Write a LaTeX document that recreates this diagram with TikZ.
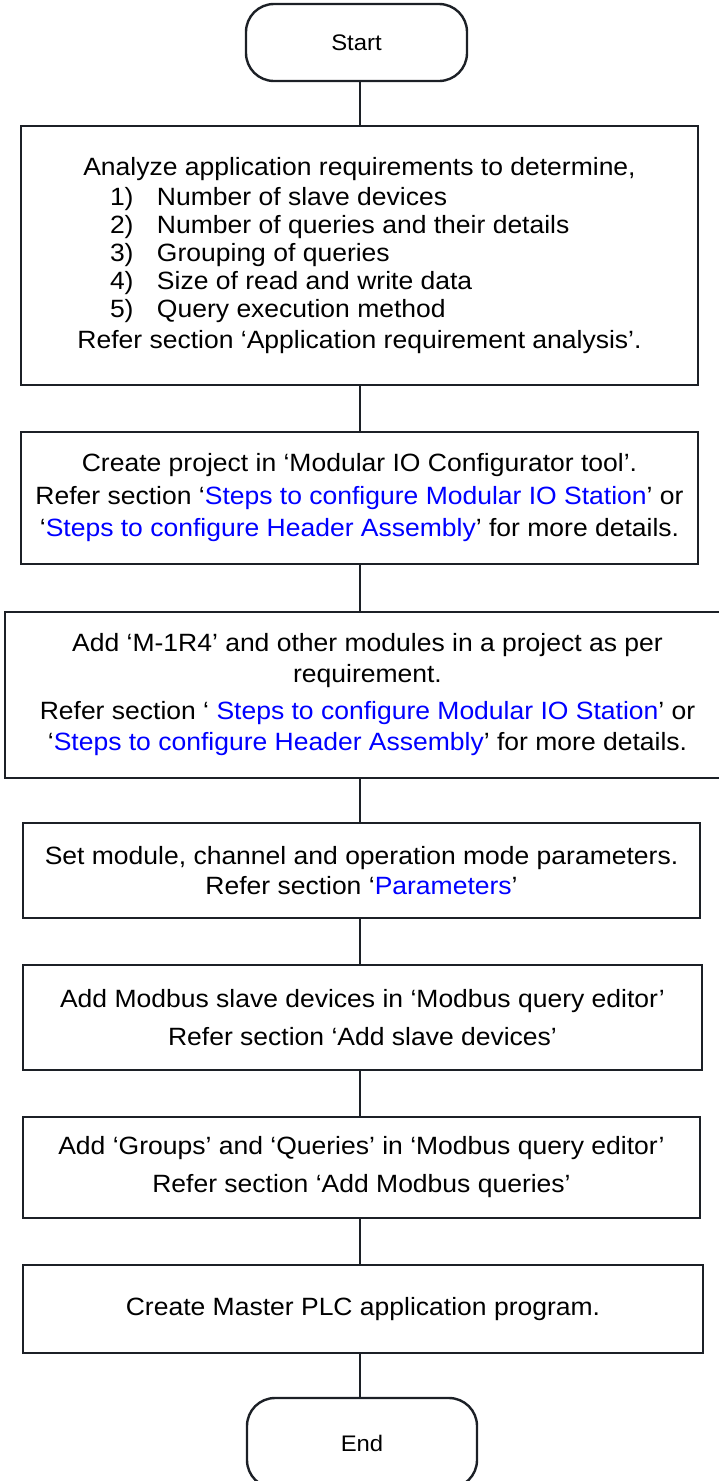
\documentclass[tikz,border=0pt]{standalone}
\usepackage{fontspec}
\setmainfont{Liberation Sans}[FakeStretch=1.06]
\usetikzlibrary{calc}
\definecolor{edge}{RGB}{28,32,38}
\definecolor{linkblue}{RGB}{0,0,255}
\newcommand{\lnk}[1]{\textcolor{linkblue}{#1}}
\newcommand{\litem}[2]{\makebox[499pt][l]{\makebox[47pt][l]{#1}#2}}
\begin{document}
\begin{tikzpicture}[x=1pt,y=-1pt,
  stepbox/.style={draw=edge,line width=2.4pt,inner sep=0pt,align=center},
  term/.style={draw=edge,line width=2.4pt,rounded corners=28pt,inner sep=0pt,font=\fontsize{22.5}{27}\selectfont},
  conn/.style={draw=edge,line width=2pt}]
\clip (0,0) rectangle (719,1481);
\coordinate (axis) at (360,0);

\node[term,minimum width=221pt,minimum height=77pt] (start) at (356.5,42.5) {Start};

\node[stepbox,minimum width=677pt,minimum height=259pt,font=\fontsize{25}{28}\selectfont] (b1) at (359.5,255.5)
{Analyze application requirements to determine,\\[2pt]
\litem{1)}{Number of slave devices}\\
\litem{2)}{Number of queries and their details}\\
\litem{3)}{Grouping of queries}\\
\litem{4)}{Size of read and write data}\\
\litem{5)}{Query execution method}\\[3pt]
Refer section ‘Application requirement analysis’.};

\node[stepbox,minimum width=677pt,minimum height=132pt,font=\fontsize{25}{32.5}\selectfont] (b2) at (359.5,498)
{Create project in ‘Modular IO Configurator tool’.\\
Refer section ‘\lnk{Steps to configure Modular IO Station}’ or\\
‘\lnk{Steps to configure Header Assembly}’ for more details.};

\node[stepbox,minimum width=725pt,minimum height=166pt,font=\fontsize{25}{31}\selectfont] (b3) at (367.5,695)
{Add ‘M-1R4’ and other modules in a project as per\\
requirement.\\[6pt]
Refer section ‘ \lnk{Steps to configure Modular IO Station}’ or\\
‘\lnk{Steps to configure Header Assembly}’ for more details.};

\node[stepbox,minimum width=677pt,minimum height=95pt,font=\fontsize{25}{30.5}\selectfont] (b4) at (361.5,870.5)
{Set module, channel and operation mode parameters.\\
Refer section ‘\lnk{Parameters}’};

\node[stepbox,minimum width=679pt,minimum height=105pt,font=\fontsize{25}{38}\selectfont] (b5) at (362.5,1017.5)
{Add Modbus slave devices in ‘Modbus query editor’\\
Refer section ‘Add slave devices’};

\node[stepbox,minimum width=677pt,minimum height=101pt,font=\fontsize{25}{38}\selectfont] (b6) at (361.5,1167.5)
{Add ‘Groups’ and ‘Queries’ in ‘Modbus query editor’\\
Refer section ‘Add Modbus queries’};

\node[stepbox,minimum width=680pt,minimum height=88pt,font=\fontsize{25}{30}\selectfont] (b7) at (363,1309)
{Create Master PLC application program.};

\node[term,minimum width=230pt,minimum height=90pt] (end) at (362,1443) {End};

\draw[conn] (start.south -| axis) -- (b1.north -| axis);
\draw[conn] (b1.south -| axis) -- (b2.north -| axis);
\draw[conn] (b2.south -| axis) -- (b3.north -| axis);
\draw[conn] (b3.south -| axis) -- (b4.north -| axis);
\draw[conn] (b4.south -| axis) -- (b5.north -| axis);
\draw[conn] (b5.south -| axis) -- (b6.north -| axis);
\draw[conn] (b6.south -| axis) -- (b7.north -| axis);
\draw[conn] (b7.south -| axis) -- (end.north -| axis);
\end{tikzpicture}
\end{document}
